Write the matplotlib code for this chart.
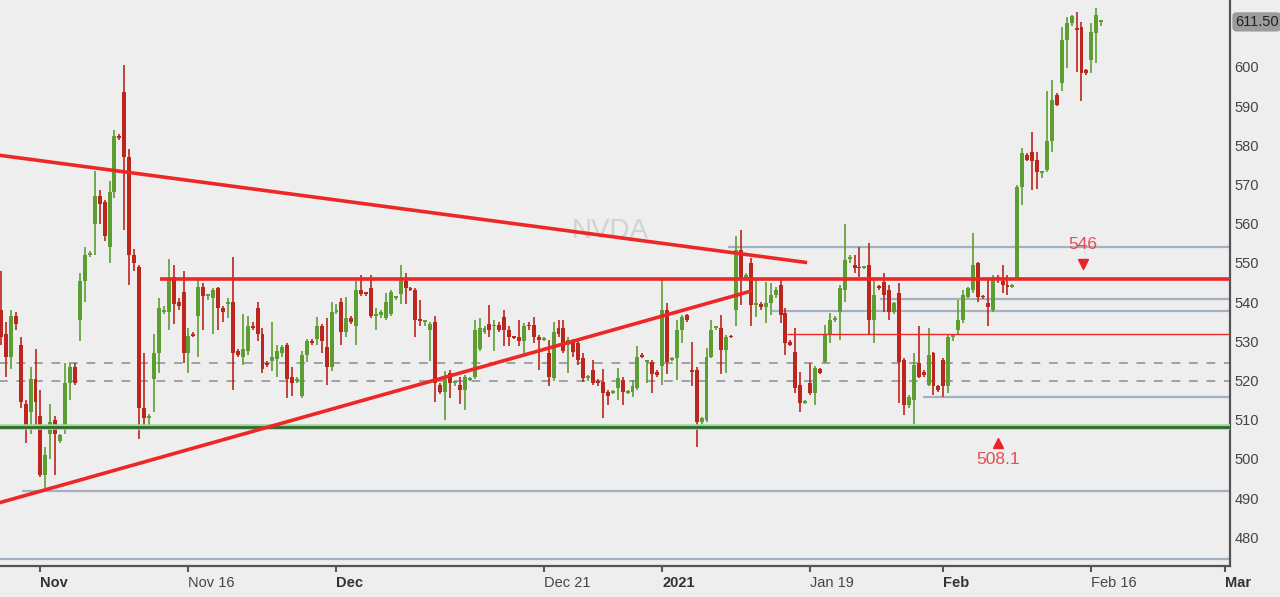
import numpy as np
import pandas as pd
import matplotlib
matplotlib.use('Agg')
import matplotlib.pyplot as plt
import matplotlib.transforms as mtransforms

plt.rcParams['font.family'] = ['Liberation Sans', 'DejaVu Sans']

# ---------------- data (3 intraday bars per trading session) ----------------
opens = [538, 532, 526, 536.5, 529, 514, 512, 520.5, 511, 496, 506.5, 510, 504.5, 508, 519.5, 523.5,
         535.5, 545.5, 552, 560, 567, 565.5, 554, 568, 582.5, 593.5,
         577, 552, 549, 513, 510.5, 520.5, 527, 537.5, 537.5, 546.5, 540, 542.5, 527, 532, 536.5, 544,
         541.5, 541, 543.5, 538.5, 539.5, 540, 527.5, 526, 527.5, 534,
         538.5, 532, 524.5, 525, 525.5, 527, 529, 521, 520, 516, 526.5, 530, 530.5, 534, 528.5, 523.5,
         537.5, 540, 532.5, 536, 534, 543, 542.3, 543.5, 536.5, 536.7,
         536, 537, 541, 542, 545.5, 543.5, 543, 535.8, 535, 533, 535, 519, 517, 522, 519.3, 519, 517.5,
         520.2, 521, 528, 532.5, 534.5, 533.8, 534.2, 536.3, 533,
         531.2, 531.2, 530, 534.2, 534.2, 531.2, 530.4, 527, 520.6, 533.3, 533.3, 529, 530, 529.5,
         525.7, 520.6, 522.7, 519.7, 519.7, 517.2, 516.8, 518, 520.2, 516.8, 517.2, 518,
         526.5, 524.8, 524.8, 522.2, 523.6, 538, 525.3, 525.7, 533, 536.7, 522.7, 522.7, 509.5, 510,
         526.1, 533.3, 533.3, 527.8, 531.4, 538, 553.3, 546.1, 550, 539.3, 539.5, 538.9,
         539.7, 541.8, 544.4, 537.2, 529.9, 527.4, 518.9, 514.4, 519.3, 516.8, 522.9, 524.8, 531.6,
         535.5, 537.6, 543.1, 551, 549.5, 548.8, 548.8, 549.5, 535.5, 544.1, 545.2, 543.1, 537.6,
         542.3, 525.2, 513.8, 515, 524.4, 522.3, 518.9, 527, 518.5, 525.2, 518.5, 531.2, 532.9,
         535.5, 541.4, 543.1, 549.9, 541.6, 539.7, 538, 546.5, 545.4, 544.4, 544, 546.1, 569.5,
         577.5, 578.4, 576.3, 573, 573.7, 581, 592.9, 595.8, 606.9, 611.1, 609.9, 610.3, 599.2,
         601.8, 608.6, 611.5]
highs = [548, 535, 538, 537.5, 531, 515, 523.5, 528, 517.5, 503, 514, 511, 506.5, 524.5, 524.5, 524.5,
         547.5, 554, 553, 573.5, 568.5, 566, 571, 584, 583, 600.5,
         579, 553.5, 549.5, 527, 511.5, 532, 541, 539, 551, 549.5, 541, 548, 533.5, 532.5, 546, 545,
         542, 543.5, 544, 539, 541, 551.5, 528, 537, 536.5, 535,
         540, 533.5, 525, 535, 529, 529, 529.5, 523.5, 521, 527.5, 530.7, 530.5, 536.3, 534.5, 536, 540,
         539.5, 541, 541.4, 536.5, 545.5, 547, 542.5, 547, 538.4, 538,
         542.3, 543, 541.5, 549.5, 547.5, 543.8, 543.5, 540.5, 535.5, 535, 536.5, 519.5, 522.5, 522.7,
         520, 521, 521.5, 521, 535.5, 536, 534, 539.3, 535.5, 535, 538, 533.8,
         531.5, 535.5, 534.6, 535, 536.3, 531.6, 531.2, 530.4, 535, 535.5, 535.5, 531, 530.5, 530.4,
         527, 521.5, 525.3, 520.5, 523, 517.6, 517.5, 523.1, 521, 517.5, 520.2, 528.7,
         527, 525.3, 525.3, 522.7, 545.7, 539.7, 526, 535.5, 536.8, 537, 529.9, 523.5, 510.8, 528.2,
         535.5, 534, 536.7, 531.6, 531.6, 557, 558.4, 547.5, 551.2, 546, 540, 545.2,
         544.8, 544, 545.7, 538.4, 530.4, 533.3, 522.3, 515, 524.4, 523.6, 523.2, 534.2, 537.2,
         536.5, 544.4, 560, 552, 552, 554.2, 549.2, 555, 546.5, 544.5, 547.4, 544.4, 540,
         544.8, 525.7, 516.3, 527, 533.8, 522.7, 533.3, 527.4, 519, 525.7, 531.6, 531.4, 540.5,
         543.1, 544, 557.6, 550.3, 541.8, 546.5, 547, 547, 549.5, 547, 544.7, 569.9, 579.3,
         578, 583.5, 578.4, 573.5, 594, 596.7, 593.3, 610.3, 612.8, 613.3, 614.1, 611.6, 599.5,
         611.1, 615, 612]
lows = [529, 521, 523, 533, 513, 504, 506.5, 508, 495.5, 492.5, 500, 496, 504, 506.5, 515, 519,
        530, 540, 551.5, 552, 560, 555.5, 550, 566.5, 581.5, 558.5,
        544.5, 548, 505, 508, 508, 512, 522, 537, 533, 534.5, 538, 524.5, 522, 531, 526, 533,
        540.5, 532, 533, 535, 536, 517.5, 526, 524, 526.5, 533,
        530, 522, 523.5, 522.5, 521, 526, 515.5, 516, 519.5, 515.5, 524.8, 529, 529, 527, 519, 522.5,
        537, 529, 531.2, 534.5, 529, 541.5, 541.5, 536, 533, 536,
        535.5, 536.5, 540.5, 539.5, 539.5, 542.8, 531, 533.8, 534, 525, 514.5, 516.7, 510, 515.5,
        518.7, 514, 512.5, 520, 520.5, 527.5, 532, 531.2, 527.5, 532.5, 528.7, 528.7,
        530.5, 528.7, 527, 533, 529.5, 522.7, 530, 518.5, 520, 531.2, 527, 522, 526, 524,
        519.7, 520, 518.9, 518.5, 510.5, 513.8, 516.5, 515, 513.8, 516.5, 515.9, 517.6,
        525.7, 519.3, 516.8, 521, 519, 521.8, 525, 520.2, 529.5, 535, 518.5, 503, 509, 509.5,
        525.7, 533, 521.8, 522, 530.8, 533.8, 539.3, 545.7, 533.8, 536.3, 538, 534.6,
        536.7, 541, 534.6, 526.5, 528.7, 516.8, 512.1, 514, 516.4, 513.8, 521.6, 524.4, 529.5,
        535, 530.4, 540, 549.9, 547.4, 546.5, 548.4, 532, 529.5, 543, 537.6, 535.5, 537,
        514.2, 511.2, 513, 509, 520.6, 521, 518.5, 516.3, 517, 515.9, 516.8, 530, 532,
        534.6, 541, 542.3, 540, 540.8, 533.8, 537.6, 545, 542.3, 541.8, 543.7, 545.7, 564.8,
        576, 568.6, 569, 571.6, 573.3, 578.4, 590, 594, 599.7, 610.5, 598.8, 591.2, 598,
        598.4, 601, 610.5]
closes = [531, 526, 536.5, 534.5, 514.5, 508.5, 520.5, 514.5, 496, 501, 509.5, 506.5, 506, 519.5, 523.5, 519.5,
          545.5, 552, 552.5, 567, 565, 557, 568, 582.5, 582, 577,
          552, 550, 513, 510.5, 511, 527, 538.5, 538, 546, 539.5, 539, 527, 531.5, 531.5, 544, 541.5,
          541.6, 543, 538.5, 537.5, 539.6, 527, 526.5, 528, 534, 533.5,
          532, 523, 524, 526, 527.5, 528.5, 520.5, 519.5, 520.5, 526.5, 530, 529.5, 534, 530, 523.5, 537.5,
          538, 532.5, 536, 535, 543, 542, 542, 536.5, 536.8, 537.6,
          540, 542.5, 541.1, 545.5, 543.5, 543, 535.5, 535.2, 535.1, 534.5, 519.5, 517.2, 520.5, 519.5,
          519.5, 517.5, 521, 520.5, 533, 533.3, 533.5, 533, 534, 533, 533, 531.2,
          530.8, 530, 533.8, 533.8, 531.2, 530.4, 530.8, 521, 532.5, 532, 527.5, 530.4, 527.4, 525.3,
          520.6, 521, 519.3, 519.3, 516.8, 516, 517, 520.6, 517.2, 517.2, 518.5, 526,
          526.1, 525, 521.8, 521.4, 538, 524.8, 525.5, 533, 536.3, 535.5, 522.3, 509.5, 510.4, 526,
          533, 533.5, 527.8, 531.2, 531, 553.3, 546, 547, 539.3, 539.5, 538.7, 539.7,
          541.8, 543.1, 536.7, 529.5, 529.1, 518, 514.2, 514.6, 516.8, 523.1, 522, 531.6, 535.5,
          536, 543.5, 550.8, 551.3, 548.6, 548.6, 548.8, 535.5, 541.8, 543.5, 541.8, 537.6, 539.7,
          524.8, 513.8, 515.9, 524, 521, 521.4, 526.5, 518.5, 517.6, 518.5, 531.2, 531.3, 535.5,
          541.8, 543.5, 549.5, 541.4, 541.2, 538.9, 546.5, 545.8, 544.4, 544, 544.4, 569.5, 578,
          576.3, 575.9, 573.3, 573.2, 581, 591.6, 590.3, 606.9, 611.1, 613, 609.4, 598.4, 598.4,
          609, 613.3, 611.5]

# trading calendar (3 bars per session)
holidays = ['2020-11-26', '2020-12-25', '2021-01-01', '2021-01-18', '2021-02-15']
sessions = pd.bdate_range('2020-10-28', '2021-03-01', freq='C', holidays=holidays)
bars_per_session = 3
first_slot = 1

tick_dates = ['2020-11-02', '2020-11-16', '2020-12-01', '2020-12-21', '2021-01-04',
              '2021-01-19', '2021-02-01', '2021-02-16', '2021-03-01']
tick_labels = ['Nov', 'Nov 16', 'Dec', 'Dec 21', '2021', 'Jan 19', 'Feb', 'Feb 16', 'Mar']
tick_bold = [True, False, True, False, True, False, True, False, True]
y_ticks = list(range(480, 601, 10))

# drawn levels / studies
support_level = 508.1
resistance_level = 546.0
resistance_start = 33.2
minor_red_level = 532.0
minor_red_start = 160.3
dashed_levels = [524.6, 519.9]
gray_levels = [554.2, 540.7, 537.8, 515.7, 491.8, 474.5]
gray_starts = [148.4, 179.2, 157.3, 187.9, 5.3, 0.0]
down_trend_x = [0.0, 164.4]
down_trend_y = [577.6, 550.1]
up_trend_x = [0.0, 153.2]
up_trend_y = [488.6, 542.9]
last_price = 611.50
marker_slot_res = 220.3
marker_slot_sup = 203.1
symbol = 'NVDA'

# ---------------- plotting ----------------
BG = '#EEEEEE'
GREEN = '#5C9E32'
RED = '#BC261D'
LINE_RED = '#EE2626'
GRAYBLUE = '#A3B1BF'
AXIS = '#555555'
TXT = '#444444'

fig = plt.figure(figsize=(12.8, 5.97), dpi=100, facecolor=BG)
ax = fig.add_axes([0.0, 31 / 597, 1230 / 1280, 566 / 597])
ax.set_facecolor(BG)

o = np.array(opens); h = np.array(highs); l = np.array(lows); c = np.array(closes)
x = np.arange(len(o)) + first_slot
up = c >= o
cols = np.where(up, GREEN, RED)

xmin, xmax = 0.8, 250.1
ax.set_xlim(xmin, xmax)
ax.set_ylim(472.7, 617.09)

# gray reference lines (behind candles)
for lev, st in zip(gray_levels, gray_starts):
    ax.hlines(lev, max(st, xmin - 1), xmax + 1, colors=GRAYBLUE, lw=1.6, zorder=1)
for lev in dashed_levels:
    ax.hlines(lev, xmin - 1, xmax + 1, colors='#A0A0A0', lw=1.4, linestyles=(0, (4.5, 4.5)), zorder=1)

# candles
ax.vlines(x, l, h, colors=cols, lw=1.2, zorder=3)
body_bottom = np.minimum(o, c)
body_h = np.maximum(np.abs(c - o), 0.5)
ax.bar(x, body_h, bottom=body_bottom, width=0.8, color=cols, linewidth=0, zorder=4)

# studies on top
ax.hlines(minor_red_level, minor_red_start, xmax + 1, colors=LINE_RED, lw=1.0, zorder=5)
ax.hlines(resistance_level, resistance_start, xmax + 1, colors=LINE_RED, lw=2.6, zorder=5)
ax.hlines(support_level, xmin - 1, xmax + 1, colors='#9AD89A', lw=4.0, zorder=5)
ax.hlines(support_level, xmin - 1, xmax + 1, colors='#2F6B2F', lw=2.0, zorder=5)
ax.plot(down_trend_x, down_trend_y, color=LINE_RED, lw=2.6, zorder=5, solid_capstyle='butt')
ax.plot(up_trend_x, up_trend_y, color=LINE_RED, lw=2.6, zorder=5, solid_capstyle='butt')

# level annotations
ax.plot([marker_slot_res], [resistance_level + 3.7], marker='v', color='#E8232B', ms=7, zorder=6)
ax.text(marker_slot_res, resistance_level + 8.6, f'{resistance_level:.0f}', color='#E84A52',
        fontsize=12.5, ha='center', va='center', zorder=6)
ax.plot([marker_slot_sup], [support_level - 3.9], marker='^', color='#E8232B', ms=7, zorder=6)
ax.text(marker_slot_sup, support_level - 8.3, f'{support_level:.1f}', color='#E84A52',
        fontsize=12.5, ha='center', va='center', zorder=6)

# watermark
ax.text(0.496, 0.592, symbol, transform=ax.transAxes, fontsize=20, color='#D2D2D2',
        ha='center', va='center', zorder=0.5)

# axes styling
for s in ['top', 'left']:
    ax.spines[s].set_visible(False)
for s in ['bottom', 'right']:
    ax.spines[s].set_color(AXIS)
    ax.spines[s].set_linewidth(1.6)

ax.yaxis.tick_right()
ax.set_yticks(y_ticks)
ax.set_yticklabels([str(v) for v in y_ticks])
ax.tick_params(axis='y', length=0, pad=3, labelsize=10.5, labelcolor=TXT)

tick_pos = [sessions.get_loc(pd.Timestamp(d)) * bars_per_session for d in tick_dates]
ax.set_xticks(tick_pos)
ax.set_xticklabels(tick_labels)
ax.tick_params(axis='x', length=4, width=1.5, color=AXIS, pad=3, labelsize=10.5, labelcolor=TXT)
for lbl, b in zip(ax.get_xticklabels(), tick_bold):
    lbl.set_ha('left')
    if b:
        lbl.set_fontweight('bold')
        lbl.set_color('#333333')

# last price tag
trans = mtransforms.blended_transform_factory(ax.transAxes, ax.transData)
ax.text(1.004, last_price, f'{last_price:.2f}', transform=trans, fontsize=10.5, color='#222222',
        ha='left', va='center', clip_on=False, zorder=10,
        bbox=dict(boxstyle='round,pad=0.18,rounding_size=0.3', fc='#9C9C9C', ec='none'))

fig.savefig('out.png', dpi=100, facecolor=BG)
